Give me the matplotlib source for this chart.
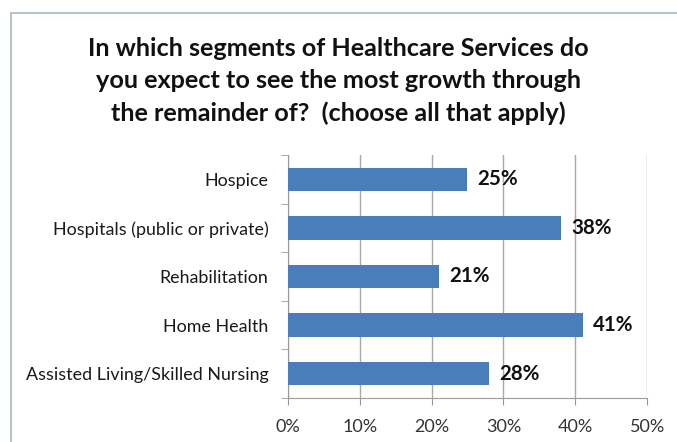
import matplotlib.pyplot as plt
from matplotlib.patches import Rectangle

categories = ['Hospice', 'Hospitals (public or private)', 'Rehabilitation',
              'Home Health', 'Assisted Living/Skilled Nursing']
values = [25, 38, 21, 41, 28]
xticks = [0, 10, 20, 30, 40, 50]
title = ('In which segments of Healthcare Services do\n'
         'you expect to see the most growth through\n'
         'the remainder of?  (choose all that apply)')

plt.rcParams['font.family'] = ['Lato', 'DejaVu Sans']

fig = plt.figure(figsize=(6.77, 4.42), dpi=100)
ax = fig.add_axes([0.425, 0.0995, 0.531, 0.55])

# outer chart-area frame (Excel style)
fig.patches.append(Rectangle((0.016, -0.2), 1.2, 1.17, transform=fig.transFigure,
                             fill=False, edgecolor='#b8c4cc', lw=1.5))

ypos = list(range(len(categories)))
ax.barh(ypos, values, height=0.48, color='#4a7ebb', zorder=3)

for y, v in zip(ypos, values):
    ax.text(v + 1.4, y, f'{v}%', ha='left', va='center',
            fontsize=14.8, fontweight='bold', color='#111111', zorder=4)

ax.set_xlim(0, 50)
ax.set_ylim(len(categories) - 0.5, -0.5)
ax.set_xticks(xticks)
ax.set_xticklabels([f'{t}%' for t in xticks], fontsize=13, color='#333333')
ax.set_yticks(ypos)
ax.set_yticklabels(categories, fontsize=12.9, color='#1a1a1a')
ax.set_yticks([i - 0.5 for i in range(len(categories) + 1)], minor=True)

ax.grid(axis='x', color='#a8a8a8', lw=1, zorder=0)
for s in ['top', 'right']:
    ax.spines[s].set_visible(False)
for s in ['left', 'bottom']:
    ax.spines[s].set_color('#9a9a9a')
ax.tick_params(axis='y', which='major', length=0, pad=14)
ax.tick_params(axis='y', which='minor', length=5, color='#9a9a9a')
ax.tick_params(axis='x', length=5, color='#9a9a9a', direction='out', pad=10)

fig.text(0.5, 0.817, title, ha='center', va='center', fontsize=18.2,
         fontweight='bold', color='#111111', linespacing=1.47)

fig.savefig('out.png', dpi=100)
